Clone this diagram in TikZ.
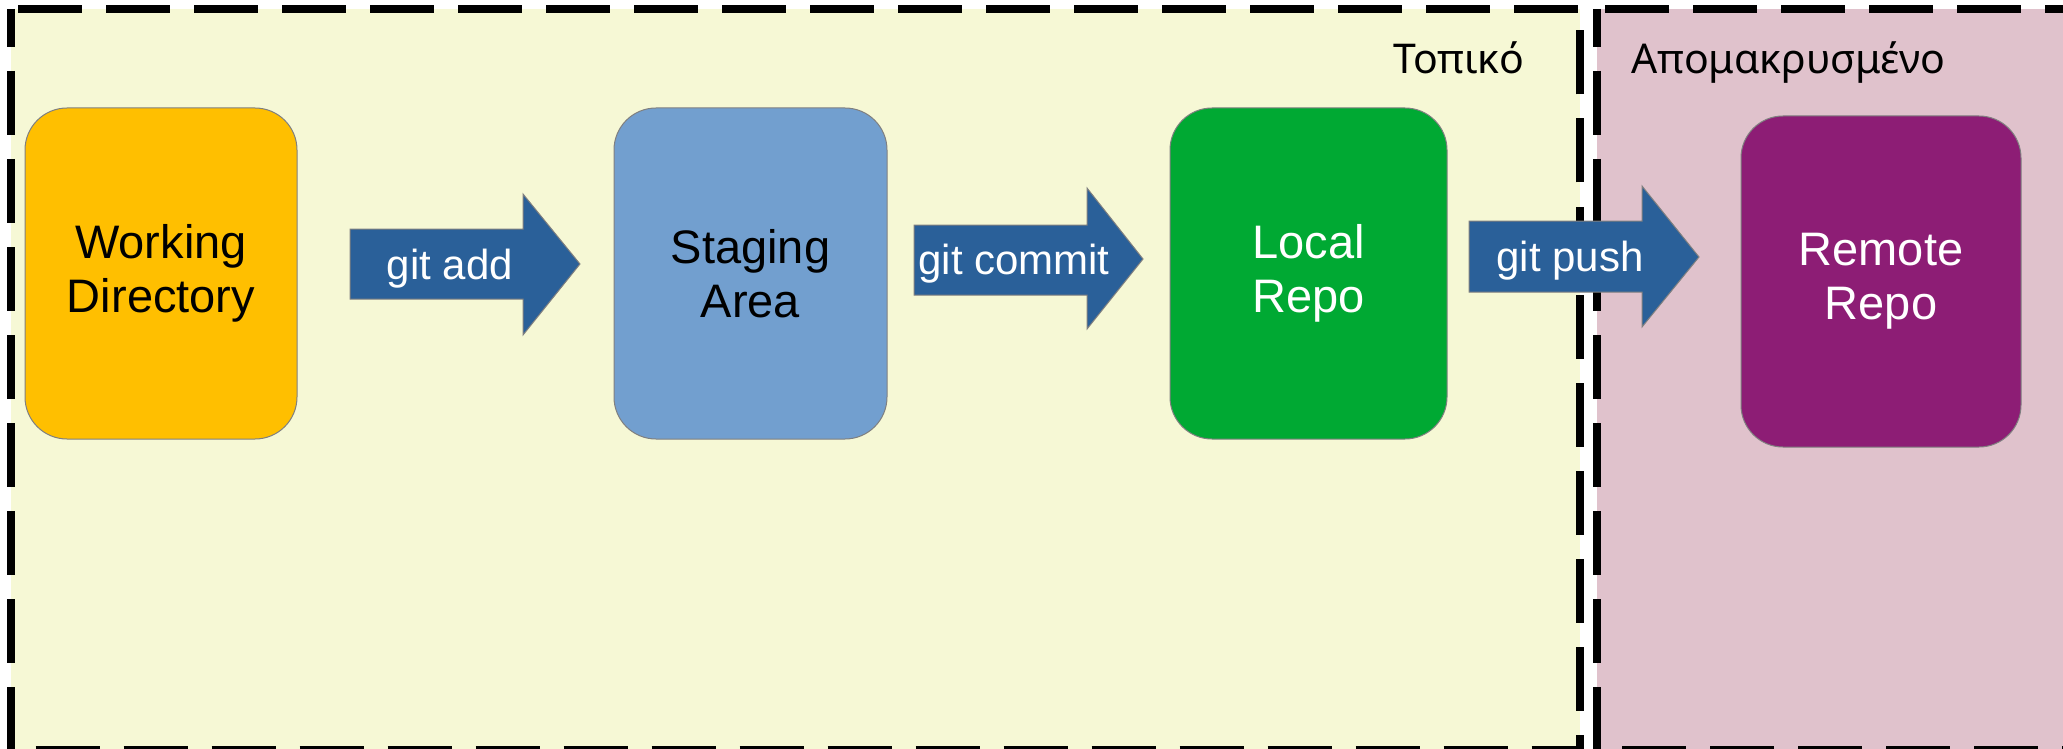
\documentclass[tikz,border=0pt]{standalone}
\usepackage{fontspec}
\setmainfont{Liberation Sans}
\newfontfamily\greekfont{Noto Sans}
\definecolor{localbg}{HTML}{F6F8D5}
\definecolor{remotebg}{HTML}{E0C2CC}
\definecolor{workc}{HTML}{FFBF00}
\definecolor{stagec}{HTML}{729FCF}
\definecolor{localc}{HTML}{00A933}
\definecolor{remotec}{HTML}{8D1D75}
\definecolor{arrowc}{HTML}{2A6099}
\definecolor{edgec}{HTML}{808080}
\begin{document}
\begin{tikzpicture}[x=0.5pt,y=-0.5pt,
  region/.style={line width=4pt, dash pattern=on 32pt off 12pt, dash phase=13pt, line join=round},
  box/.style={draw=edgec, line width=0.5pt, rounded corners=21pt, minimum height=165.5pt, align=center,
    font=\fontsize{23.5}{27}\selectfont, inner sep=0pt},
  blockarrow/.style={fill=arrowc, draw=edgec, line width=0.5pt},
  arrowlabel/.style={text=white, font=\fontsize{21}{25}\selectfont, inner sep=0pt, anchor=base},
  zonelabel/.style={font=\greekfont\fontsize{20.5}{24}\selectfont, inner sep=0pt}]
\useasboundingbox (0,0) rectangle (2063,749);
\clip (0,0) rectangle (2063,749);
\fill[white] (0,0) rectangle (2063,749);
% regions
\draw[region, fill=localbg] (10.5,9) rectangle (1580,750);
\draw[region, fill=remotebg] (1597,9) rectangle (2066.8,750);
\node[zonelabel, anchor=base east] (topiko) at (1525,74) {Τοπικό};
\node[zonelabel, anchor=base west] (apomak) at (1631,74) {Απομακρυσμένο};
% boxes
\node[box, fill=workc, minimum width=136pt] (work) at (161,273.5) {Working\\Directory};
\node[box, fill=stagec, minimum width=136.5pt] (stage) at (750.5,273.5) {Staging\\Area};
\node[box, fill=localc, text=white, minimum width=138.5pt] (local) at (1308.5,273.5) {Local\\Repo};
\node[box, fill=remotec, text=white, minimum width=140pt] (remote) at (1881,281.5) {Remote\\Repo};
% block arrows
\draw[blockarrow] (350,229) -- (523,229) -- (523,194) -- (580,264) -- (523,335) -- (523,299) -- (350,299) -- cycle;
\node[arrowlabel] (addlbl) at (450,279) {git add};
\draw[blockarrow] (914,225) -- (1087,225) -- (1087,188) -- (1143,259) -- (1087,329) -- (1087,295) -- (914,295) -- cycle;
\node[arrowlabel] (commitlbl) at (1014,274) {git commit};
\draw[blockarrow] (1469,221) -- (1642,221) -- (1642,186) -- (1699,257) -- (1642,327) -- (1642,292) -- (1469,292) -- cycle;
\node[arrowlabel] (pushlbl) at (1570,271) {git push};
\end{tikzpicture}
\end{document}
